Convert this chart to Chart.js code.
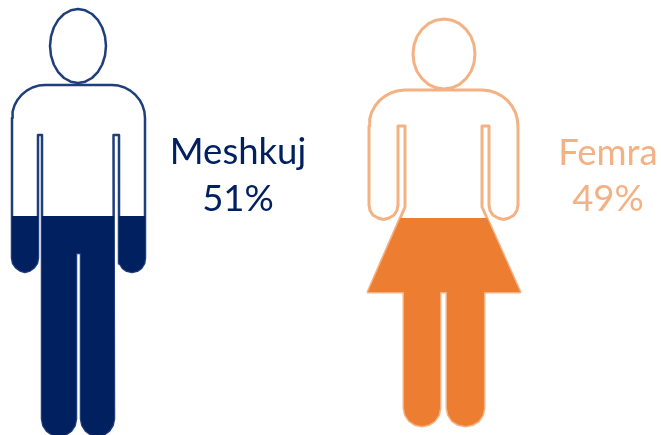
<!DOCTYPE html>
<html>
<head>
<meta charset="utf-8">
<title>Meshkuj / Femra</title>
<style>
  html, body { margin: 0; padding: 0; background: #fff; }
  #wrap { width: 661px; height: 435px; }
</style>
<script src="https://cdn.jsdelivr.net/npm/chart.js@4"></script>
</head>
<body>
<div id="wrap"><canvas id="people"></canvas></div>
<script>
// values shown next to the figures
const categories = ['Meshkuj', 'Femra'];
const shares = [51, 49];

// figure outlines, in picture units
const manHead = [[78,9],[85.2,10.3],[92,14],[97.8,19.8],[102.2,27.5],[105,36.4],[106,46],[105,55.6],[102.2,64.5],[97.8,72.2],[92,78],[85.2,81.7],[78,83],[70.8,81.7],[64,78],[58.2,72.2],[53.8,64.5],[51,55.6],[50,46],[51,36.4],[53.8,27.5],[58.2,19.8],[64,14],[70.8,10.3],[78,9]];
const manLeftShoulder = [[12,118],[12.6,111.6],[14.5,105.4],[17.6,99.7],[21.7,94.7],[26.7,90.6],[32.4,87.5],[38.6,85.6],[45,85]];
const manRightShoulder = [[112,85],[118.4,85.6],[124.6,87.5],[130.3,90.6],[135.3,94.7],[139.4,99.7],[142.5,105.4],[144.4,111.6],[145,118]];
const manRightHand = [[145,258],[144.2,263.4],[141.4,267.9],[137.2,270.9],[132,272],[126.8,270.9],[122.6,267.9],[119.8,263.4],[119,258]];
const manLeftHand = [[38,258],[37,263.2],[34,267.5],[29.9,270.5],[25,272],[20.1,270.5],[16,267.5],[13,263.2],[12,258]];
const manRightFoot = [[114,419],[112.7,425.3],[109.2,430.7],[103.8,434.7],[97.5,436],[91.2,434.7],[85.8,430.7],[82.3,425.3],[81,419]];
const manLeftFoot = [[76,419],[74.7,425.5],[71,431],[65.5,434.7],[59,436],[52.5,434.7],[47,431],[43.3,425.5],[42,419]];

const womanHead = [[444,19],[452,20.2],[459.5,23.7],[466,29.3],[471,36.5],[474,45],[475,54],[474,63],[471,71.5],[466,78.7],[459.5,84.3],[452,87.8],[444,89],[436,87.8],[428.5,84.3],[422,78.7],[417,71.5],[414,63],[413,54],[414,45],[417,36.5],[422,29.3],[428.5,23.7],[436,20.2],[444,19]];
const womanLeftShoulder = [[369,126],[369.7,119],[371.7,112.2],[375.1,106],[379.5,100.5],[385,96.1],[391.2,92.7],[398,90.7],[405,90]];
const womanRightShoulder = [[482,90],[489,90.7],[495.8,92.7],[502,96.1],[507.5,100.5],[511.9,106],[515.3,112.2],[517.3,119],[518,126]];
const womanRightHand = [[518,205],[516.9,210.5],[513.8,215.3],[509,218],[503.5,219.5],[498,218],[493.2,215.3],[490,210.5],[489,205]];
const womanLeftHand = [[398,205],[396.9,210.5],[393.8,215.3],[389,218],[383.5,219.5],[378,218],[373.2,215.3],[370,210.5],[369,205]];
const womanRightFoot = [[484,408],[482.6,415],[478.6,421],[472.6,424.6],[465.5,426],[458.4,424.6],[452.4,421],[448.4,415],[447,408]];
const womanLeftFoot = [[440,408],[438.6,414.9],[434.7,420.7],[428.9,424.6],[422,426],[415.1,424.6],[409.3,420.7],[405.4,414.9],[404,408]];

const manOutline = [
    ...manLeftShoulder, ...manRightShoulder, ...manRightHand,
    [119,135], [113.5,135], ...manRightFoot, [81,253], [76,253], ...manLeftFoot,
    [42,135], [38,135], ...manLeftHand, [12,118]
];
const manLeftArmFill = [[12,216], [38,216], ...manLeftHand, [12,216]];
const manRightArmFill = [[119,216], [145,216], ...manRightHand, [119,216]];
const manBodyFill = [[42,216], [114,216], ...manRightFoot, [81,253], [76,253], ...manLeftFoot, [42,216]];

const womanOutline = [
    ...womanLeftShoulder, ...womanRightShoulder, ...womanRightHand,
    [489,126], [482,126], [482,207], [520,292], [484,292], ...womanRightFoot,
    [447,292], [440,292], ...womanLeftFoot, [404,292], [368,292], [405,207], [405,126], [398,126],
    ...womanLeftHand, [369,126]
];
const womanBodyFill = [[400.5,218], [487,218], [520,292], [484,292], ...womanRightFoot,
    [447,292], [440,292], ...womanLeftFoot, [404,292], [368,292], [400.5,218]];

const NAVY = '#002060';
const NAVY_LINE = '#1f3e7c';
const ORANGE = '#ed7d31';
const PEACH = '#f4b183';

function toPoints(list) {
    return list.map(p => ({ x: p[0], y: p[1] }));
}

// fills sit above the outlines so only a soft edge of the line shows
function fillSet(list, color) {
    return { data: toPoints(list), showLine: true, tension: 0, pointRadius: 0, borderWidth: 0,
        borderColor: color, backgroundColor: color, fill: 'shape', order: 1 };
}

function lineSet(list, color, width) {
    return { data: toPoints(list), showLine: true, tension: 0, pointRadius: 0, borderWidth: width,
        borderColor: color, borderCapStyle: 'round', borderJoinStyle: 'round', fill: false, order: 2 };
}

// writes the name and the share beside each figure
const figureLabels = {
    id: 'figureLabels',
    afterDraw(chart) {
        const { ctx, scales } = chart;
        const spots = [
            { x: 238, y1: 164, y2: 211, color: NAVY },
            { x: 608, y1: 165, y2: 211, color: PEACH }
        ];
        ctx.save();
        ctx.font = '36.5px Lato';
        ctx.textAlign = 'center';
        ctx.textBaseline = 'alphabetic';
        spots.forEach((s, i) => {
            ctx.fillStyle = s.color;
            const px = scales.x.getPixelForValue(s.x);
            ctx.fillText(categories[i], px, scales.y.getPixelForValue(s.y1));
            ctx.fillText(shares[i] + '%', px, scales.y.getPixelForValue(s.y2));
        });
        ctx.restore();
    }
};

new Chart(document.getElementById('people'), {
    type: 'scatter',
    data: {
        datasets: [
            fillSet(manLeftArmFill, NAVY),
            fillSet(manRightArmFill, NAVY),
            fillSet(manBodyFill, NAVY),
            fillSet(womanBodyFill, ORANGE),
            lineSet(manHead, NAVY_LINE, 2.5),
            lineSet(manOutline, NAVY_LINE, 2.5),
            lineSet(womanHead, PEACH, 3),
            lineSet(womanOutline, PEACH, 3)
        ]
    },
    options: {
        responsive: true,
        maintainAspectRatio: false,
        animation: false,
        layout: { padding: 0 },
        scales: {
            x: { type: 'linear', min: 0, max: 661, display: false },
            y: { type: 'linear', min: 0, max: 435, reverse: true, display: false }
        },
        plugins: { legend: { display: false }, tooltip: { enabled: false } }
    },
    plugins: [figureLabels]
});
</script>
</body>
</html>
